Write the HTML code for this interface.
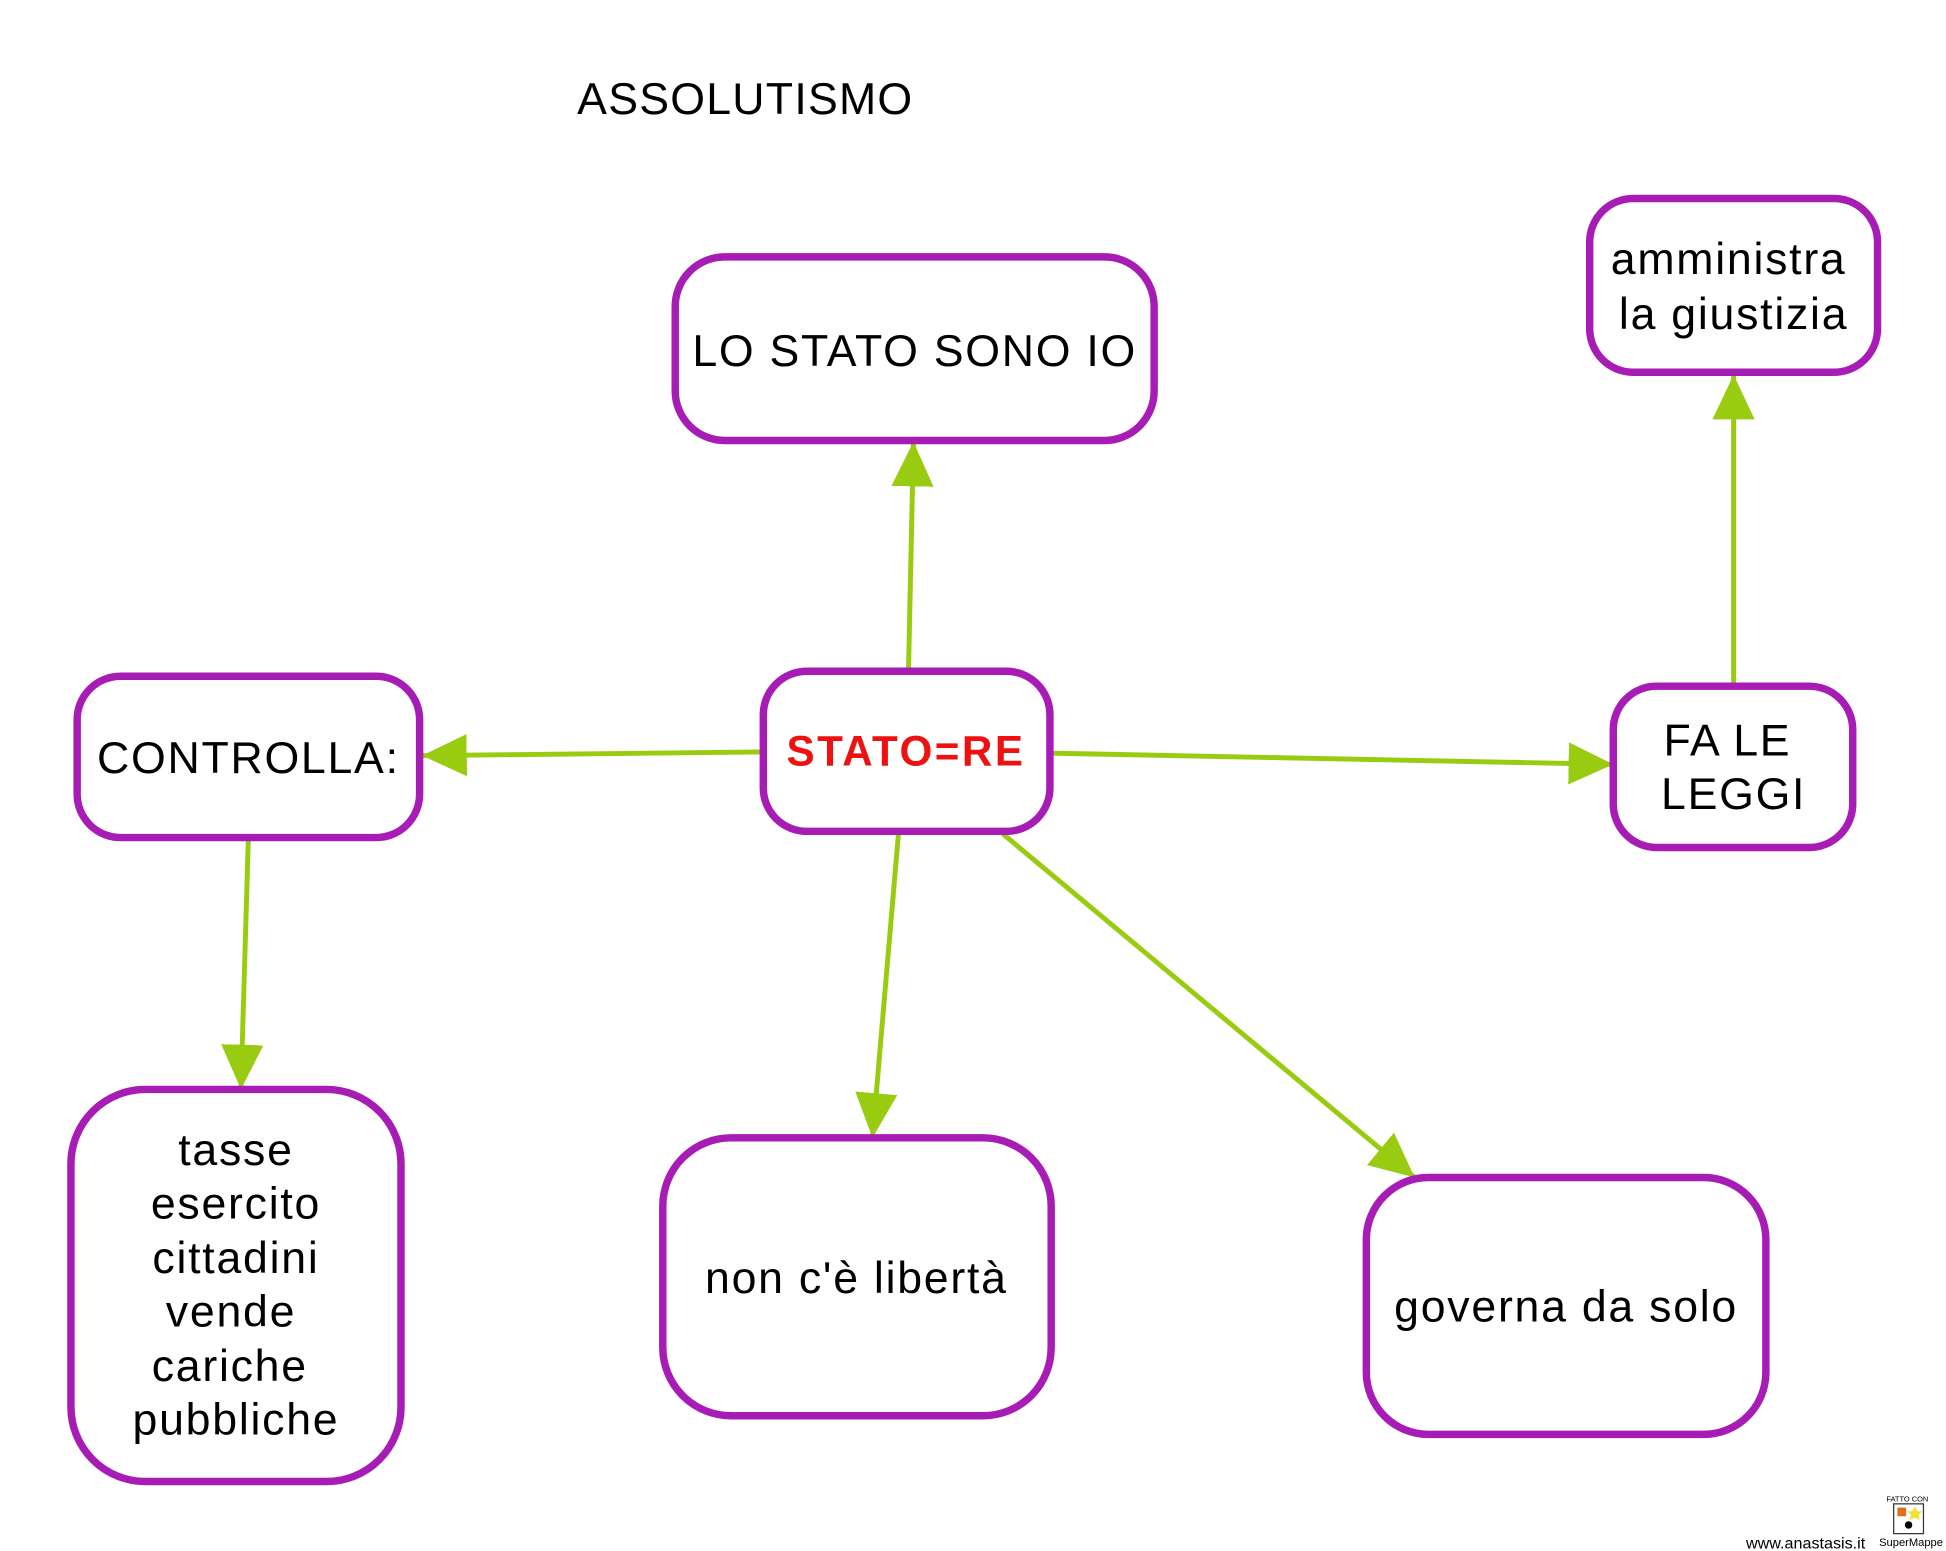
<!DOCTYPE html>
<html><head><meta charset="utf-8"><style>
html,body{margin:0;padding:0;background:#fff;}
svg{display:block;}
text{font-family:"Liberation Sans",Arial,sans-serif;}
</style></head><body>
<svg width="1946" height="1551" viewBox="0 0 1568 1250" xmlns="http://www.w3.org/2000/svg">
<defs>
<marker id="a" markerUnits="userSpaceOnUse" markerWidth="40" markerHeight="34" refX="36" refY="17" orient="auto">
<path d="M0,0 L36,17 L0,34 Z" fill="#99CC11"/>
</marker>
</defs>
<rect width="1568" height="1250" fill="#fff"/>
<text x="465" y="92" font-size="36" fill="#000" letter-spacing="1">ASSOLUTISMO</text>
<g stroke="#99CC11" stroke-width="4" fill="none" marker-end="url(#a)">
<line x1="732" y1="541" x2="736" y2="356"/>
<line x1="614" y1="606" x2="340" y2="609"/>
<line x1="846" y1="607" x2="1300" y2="616"/>
<line x1="1397" y1="553" x2="1397" y2="302"/>
<line x1="200" y1="675" x2="194" y2="878"/>
<line x1="724" y1="671" x2="703" y2="917"/>
<line x1="808" y1="672" x2="1140" y2="949"/>
</g>
<g stroke="#A61CB5" stroke-width="6" fill="#fff">
<rect x="544" y="207" width="386" height="148" rx="40"/>
<rect x="1281" y="160" width="232" height="140" rx="35"/>
<rect x="62" y="545" width="276" height="130" rx="35"/>
<rect x="615" y="541" width="231" height="129" rx="35"/>
<rect x="1300" y="553" width="193" height="130" rx="35"/>
<rect x="57" y="878" width="266" height="316" rx="60"/>
<rect x="534" y="917" width="313" height="224" rx="55"/>
<rect x="1101" y="949" width="322" height="207" rx="50"/>
</g>
<g font-size="36" fill="#000" text-anchor="middle" letter-spacing="1.4">
<text x="737" y="295">LO STATO SONO IO</text>
<text x="1393" y="221">amministra</text>
<text x="1397" y="265">la giustizia</text>
<text x="200" y="623">CONTROLLA:</text>
<text x="1392" y="609">FA LE</text>
<text x="1397" y="652">LEGGI</text>
<text x="190" y="939">tasse</text>
<text x="190" y="982">esercito</text>
<text x="190" y="1026">cittadini</text>
<text x="186" y="1069">vende</text>
<text x="185" y="1113">cariche</text>
<text x="190" y="1156">pubbliche</text>
<text x="690" y="1042">non c'è libertà</text>
<text x="1262" y="1065">governa da solo</text>
</g>
<text x="730" y="617" font-size="34" font-weight="bold" fill="#EE1111" text-anchor="middle" letter-spacing="2">STATO=RE</text>
<text x="1407" y="1248" font-size="13" fill="#000">www.anastasis.it</text>
<g>
<text x="1537" y="1210" font-size="6" text-anchor="middle" fill="#000">FATTO CON</text>
<rect x="1526" y="1212" width="24" height="24" fill="#fff" stroke="#333" stroke-width="1"/>
<rect x="1529" y="1215" width="7" height="7" fill="#E07020"/>
<path d="M1543,1214 l2,4 4,0 -3,3 1,4 -4,-2 -4,2 1,-4 -3,-3 4,0z" fill="#F0E030"/>
<circle cx="1538" cy="1229" r="3" fill="#000"/>
<text x="1540" y="1246" font-size="9" text-anchor="middle" fill="#000">SuperMappe</text>
</g>
</svg>
</body></html>
